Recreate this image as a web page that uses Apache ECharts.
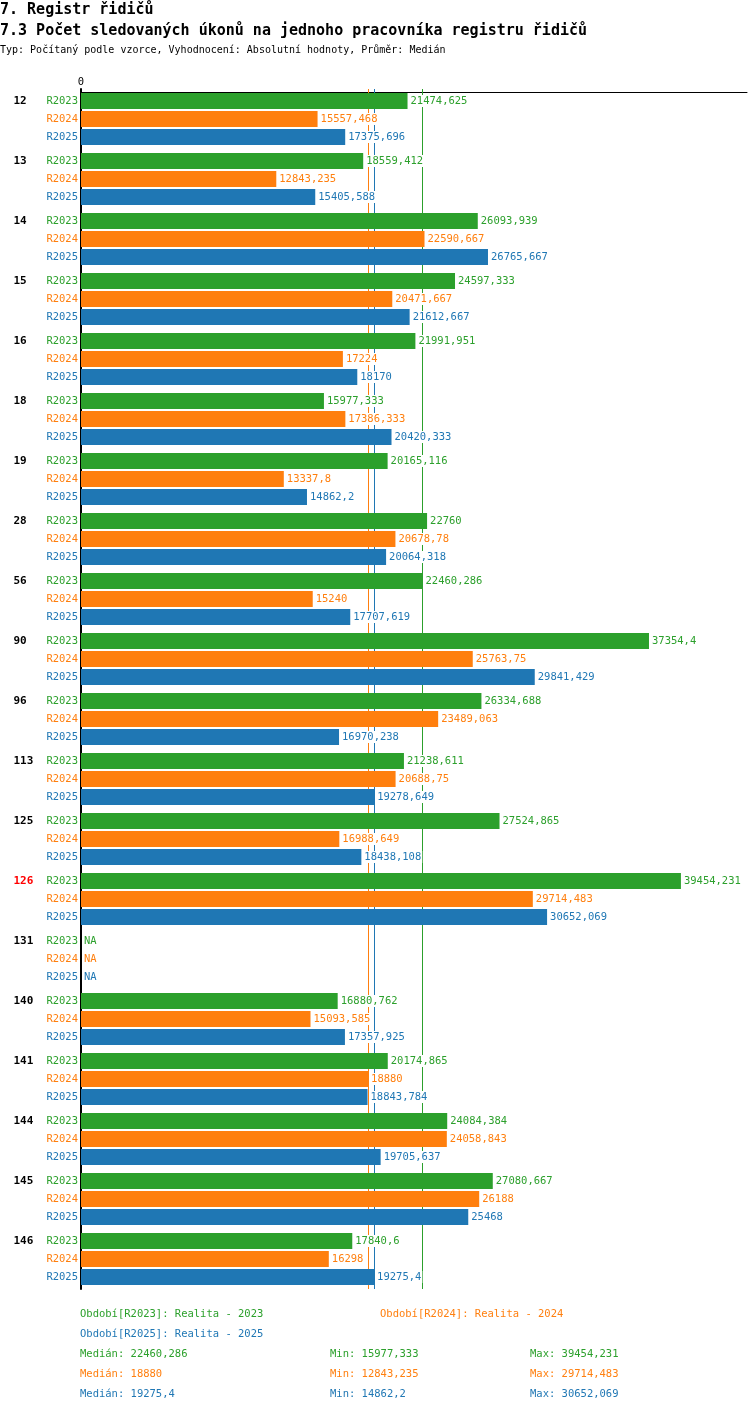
<!DOCTYPE html>
<html>
<head>
<meta charset="utf-8">
<script src="https://cdn.jsdelivr.net/npm/echarts@6/dist/echarts.min.js"></script>
<style>
  html, body { margin: 0; padding: 0; background: #fff; }
  #chart { width: 750px; height: 1412px; }
</style>
</head>
<body>
<div id="chart"></div>
<script>
// data
var categories = ['12', '13', '14', '15', '16', '18', '19', '28', '56', '90', '96', '113', '125', '126', '131', '140', '141', '144', '145', '146'];
var highlighted = ['126'];
var seriesNames = ['R2023', 'R2024', 'R2025'];
var periodLabels = ['Realita - 2023', 'Realita - 2024', 'Realita - 2025'];
var r2023 = [21474.625, 18559.412, 26093.939, 24597.333, 21991.951, 15977.333, 20165.116, 22760, 22460.286, 37354.4, 26334.688, 21238.611, 27524.865, 39454.231, null, 16880.762, 20174.865, 24084.384, 27080.667, 17840.6];
var r2024 = [15557.468, 12843.235, 22590.667, 20471.667, 17224, 17386.333, 13337.8, 20678.78, 15240, 25763.75, 23489.063, 20688.75, 16988.649, 29714.483, null, 15093.585, 18880, 24058.843, 26188, 16298];
var r2025 = [17375.696, 15405.588, 26765.667, 21612.667, 18170, 20420.333, 14862.2, 20064.318, 17707.619, 29841.429, 16970.238, 19278.649, 18438.108, 30652.069, null, 17357.925, 18843.784, 19705.637, 25468, 19275.4];
var medians = [22460.286, 18880, 19275.4];
var mins = [15977.333, 12843.235, 14862.2];
var maxs = [39454.231, 29714.483, 30652.069];

var colors = ['#2ca02c', '#ff7f0e', '#1f77b4'];
var font = "'DejaVu Sans Mono', 'Liberation Mono', monospace";
var fs = 10.5;

function fmt(v) {
	return String(v).replace('.', ',');
}

var chart = echarts.init(document.getElementById('chart'), null, {renderer: 'canvas'});

var values = [r2023, r2024, r2025];
var series = [];
values.forEach(function (arr, idx) {
	series.push({
		name: seriesNames[idx],
		type: 'bar',
		z: 3,
		barWidth: 16,
		barGap: '12.5%',
		itemStyle: {color: colors[idx]},
		label: {
			show: true,
			position: 'right',
			distance: 2,
			color: colors[idx],
			fontFamily: font,
			fontSize: fs,
			backgroundColor: '#fff',
			padding: [1, 1, 0, 1],
			formatter: function (p) {
				return p.data.na ? 'NA' : fmt(p.value);
			}
		},
		data: arr.map(function (v) {
			return v === null ? {value: 0, na: true} : {value: v};
		})
	});
});

// median lines, kept behind the bars
series.push({
	type: 'line',
	z: 1,
	silent: true,
	data: [],
	markLine: {
		z: 1,
		silent: true,
		symbol: 'none',
		label: {show: false},
		data: medians.map(function (m, i) {
			return {xAxis: m, lineStyle: {color: colors[i], type: 'solid', width: 1}};
		})
	}
});

var rich = {
	cat: {fontFamily: font, fontSize: 11, fontWeight: 'bold', color: '#000', width: 33, align: 'left'},
	catRed: {fontFamily: font, fontSize: 11, fontWeight: 'bold', color: '#ff0000', width: 33, align: 'left'}
};
seriesNames.forEach(function (n, i) {
	rich['r' + i] = {fontFamily: font, fontSize: fs, color: colors[i], align: 'right', lineHeight: 18};
});

var graphics = [
	{type: 'text', left: 0, top: 3, style: {text: '7. Registr řidičů', font: 'bold 15px ' + font, fill: '#000'}},
	{type: 'text', left: 0, top: 24, style: {text: '7.3 Počet sledovaných úkonů na jednoho pracovníka registru řidičů', font: 'bold 15px ' + font, fill: '#000'}},
	{type: 'text', left: 0, top: 45, style: {text: 'Typ: Počítaný podle vzorce, Vyhodnocení: Absolutní hodnoty, Průměr: Medián', font: '10px ' + font, fill: '#000'}}
];
var legendPos = [[80, 1309], [380, 1309], [80, 1329]];
seriesNames.forEach(function (n, i) {
	graphics.push({type: 'text', left: legendPos[i][0], top: legendPos[i][1],
		style: {text: 'Období[' + n + ']: ' + periodLabels[i], font: fs + 'px ' + font, fill: colors[i]}});
	var y = 1349 + i * 20;
	graphics.push({type: 'text', left: 80, top: y, style: {text: 'Medián: ' + fmt(medians[i]), font: fs + 'px ' + font, fill: colors[i]}});
	graphics.push({type: 'text', left: 330, top: y, style: {text: 'Min: ' + fmt(mins[i]), font: fs + 'px ' + font, fill: colors[i]}});
	graphics.push({type: 'text', left: 530, top: y, style: {text: 'Max: ' + fmt(maxs[i]), font: fs + 'px ' + font, fill: colors[i]}});
});

var option = {
	animation: false,
	backgroundColor: '#fff',
	grid: {left: 81, right: 0, top: 89, height: 1200, containLabel: false},
	xAxis: {
		type: 'value',
		position: 'top',
		offset: -3,
		min: 0,
		max: 43800,
		interval: 43800,
		axisLine: {show: true, lineStyle: {color: '#000', width: 1}},
		axisTick: {show: false},
		splitLine: {show: false},
		axisLabel: {
			margin: 4,
			fontFamily: font,
			fontSize: fs,
			color: '#000',
			formatter: function (v) { return v === 0 ? '0' : ''; }
		}
	},
	yAxis: {
		type: 'category',
		inverse: true,
		data: categories,
		axisLine: {show: true, lineStyle: {color: '#000', width: 2}},
		axisTick: {show: false},
		splitLine: {show: false},
		axisLabel: {
			margin: 3,
			interval: 0,
			formatter: function (v) {
				var c = highlighted.indexOf(v) >= 0 ? 'catRed' : 'cat';
				return '{' + c + '|' + v + '}{r0|' + seriesNames[0] + '}\n{r1|' + seriesNames[1] + '}\n{r2|' + seriesNames[2] + '}';
			},
			rich: rich
		}
	},
	graphic: graphics,
	series: series
};
chart.setOption(option);
</script>
</body>
</html>
